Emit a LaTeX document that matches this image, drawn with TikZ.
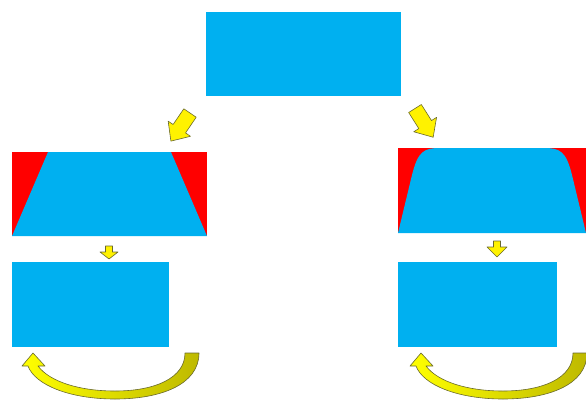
\documentclass[tikz,border=0pt]{standalone}
\definecolor{skyblue}{HTML}{00B0F0}
\definecolor{arrowedge}{RGB}{105,105,45}
\definecolor{darkyellow}{RGB}{190,185,0}
\begin{document}
\begin{tikzpicture}[x=1pt,y=-1pt,
  blueshape/.style={fill=skyblue},
  redbox/.style={fill=red},
  yarrow/.style={fill=yellow, draw=arrowedge, line width=0.6pt, line join=round},
  curvearrow/.style={left color=yellow, right color=darkyellow, draw=arrowedge, line width=0.6pt, line join=round}]
\useasboundingbox (0,0) rectangle (586,400);

% top box
\fill[blueshape] (206,12) rectangle (401,96);

% left trapezoid
\fill[redbox] (12,152) rectangle (207,236);
\fill[blueshape] (12,236) -- (48,152) -- (171,152) -- (207,236) -- cycle;

% right rounded trapezoid
\fill[redbox] (398,148) rectangle (586,233);
\fill[blueshape] (398,233) -- (412,175) .. controls (418,151) and (424,148) .. (440,148)
  -- (544,148) .. controls (560,148) and (566,151) .. (572,175) -- (586,233) -- cycle;

% bottom boxes
\fill[blueshape] (12,262) rectangle (169,347);
\fill[blueshape] (398,262) rectangle (557,347);

% diagonal block arrows
\begin{scope}[shift={(190,113)}, rotate=235.8]
  \path[yarrow] (0,-7.5) -- (19,-7.5) -- (19,-13.5) -- (34,0) -- (19,13.5) -- (19,7.5) -- (0,7.5) -- cycle;
\end{scope}
\begin{scope}[shift={(415,108.5)}, rotate=-57.7]
  \path[yarrow] (0,-7.5) -- (19,-7.5) -- (19,-13.5) -- (34,0) -- (19,13.5) -- (19,7.5) -- (0,7.5) -- cycle;
\end{scope}

% small down arrows
\path[yarrow] (105.5,246) -- (112.5,246) -- (112.5,252) -- (118,252) -- (109,259) -- (100,252) -- (105.5,252) -- cycle;
\path[yarrow] (493.5,241) -- (500.5,241) -- (500.5,247) -- (507,247) -- (497,257) -- (487,247) -- (493.5,247) -- cycle;

% curved arrows
\foreach \dx in {0,388}{
\begin{scope}[xshift=\dx]
  \path[curvearrow] (185,353) -- (199,353) .. controls (199,385) and (160,399) .. (115,399)
    .. controls (70,399) and (35,385) .. (28,366) -- (22,366) -- (33,353) -- (45,366) -- (38,366)
    .. controls (50,382) and (80,391) .. (115,391) .. controls (155,391) and (185,378) .. (185,353) -- cycle;
\end{scope}
}
\end{tikzpicture}
\end{document}
